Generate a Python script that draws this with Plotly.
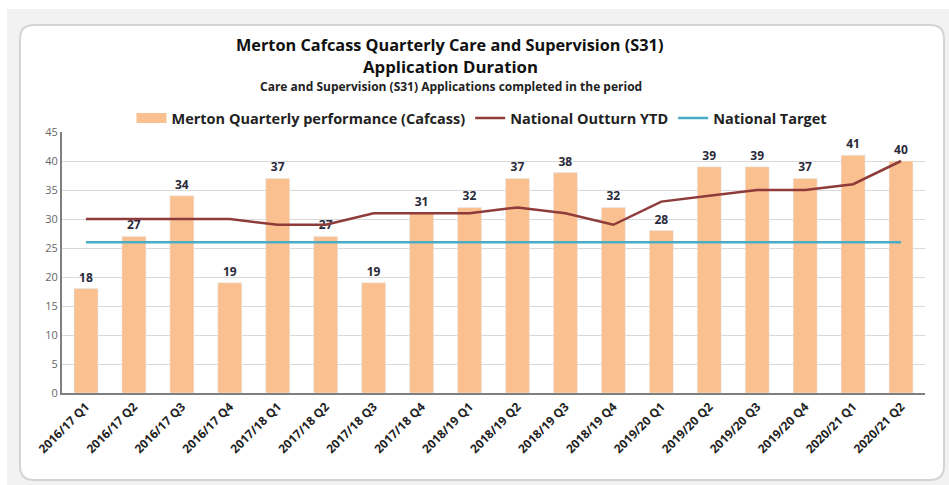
import plotly.graph_objects as go

# quarters on the x axis
quarters = [
    "2016/17 Q1", "2016/17 Q2", "2016/17 Q3", "2016/17 Q4",
    "2017/18 Q1", "2017/18 Q2", "2017/18 Q3", "2017/18 Q4",
    "2018/19 Q1", "2018/19 Q2", "2018/19 Q3", "2018/19 Q4",
    "2019/20 Q1", "2019/20 Q2", "2019/20 Q3", "2019/20 Q4",
    "2020/21 Q1", "2020/21 Q2",
]

# Merton quarterly performance (weeks)
merton = [18, 27, 34, 19, 37, 27, 19, 31, 32, 37, 38, 32, 28, 39, 39, 37, 41, 40]

# national outturn year to date
national_ytd = [30, 30, 30, 30, 29, 29, 31, 31, 31, 32, 31, 29, 33, 34, 35, 35, 36, 40]

# national target
national_target = [26] * len(quarters)

y_ticks = [0, 5, 10, 15, 20, 25, 30, 35, 40, 45]

BAR_COL = "#FAC08F"
LINE_COL = "#8E3B3A"
TARGET_COL = "#4BACC6"
FONT = "Open Sans"

# plot area in pixels (left, top, right, bottom)
L, T, R, B = 62, 132, 925, 393
PW, PH = R - L, B - T


def px(x):
    """pixel x -> paper x"""
    return (x - L) / PW


def py(y):
    """pixel y -> paper y"""
    return (B - y) / PH


def rounded_rect(x0, y0, x1, y1, r):
    rx, ry = r / PW, r / PH
    a, b, c, d = px(x0), px(x1), py(y1), py(y0)  # left, right, bottom, top
    return (f"M {a + rx},{d} L {b - rx},{d} Q {b},{d} {b},{d - ry} "
            f"L {b},{c + ry} Q {b},{c} {b - rx},{c} L {a + rx},{c} "
            f"Q {a},{c} {a},{c + ry} L {a},{d - ry} Q {a},{d} {a + rx},{d} Z")


fig = go.Figure()

fig.add_trace(go.Bar(
    x=quarters, y=merton,
    name="Merton Quarterly performance (Cafcass)",
    marker=dict(color=BAR_COL),
    text=merton, textposition="outside", cliponaxis=False,
    textfont=dict(family=FONT, size=12, color="#2a2a3a", weight="bold"),
    showlegend=False,
))

# legend-only entry so the bar swatch is a wide block like the original
fig.add_trace(go.Scatter(
    x=[quarters[0]], y=[None], mode="lines",
    name="Merton Quarterly performance (Cafcass)",
    line=dict(color=BAR_COL, width=10),
))

fig.add_trace(go.Scatter(
    x=quarters, y=national_ytd, mode="lines",
    name="National Outturn YTD",
    line=dict(color=LINE_COL, width=2.5),
))

fig.add_trace(go.Scatter(
    x=quarters, y=national_target, mode="lines",
    name="National Target",
    line=dict(color=TARGET_COL, width=2.5),
))

fig.update_layout(
    width=949, height=485,
    margin=dict(l=L, r=949 - R, t=T, b=485 - B),
    paper_bgcolor="white", plot_bgcolor="rgba(0,0,0,0)",
    bargap=0.5,
    font=dict(family=FONT, color="#333"),
    showlegend=True,
    legend=dict(
        orientation="h", x=px(482), xanchor="center", y=py(118), yanchor="middle",
        font=dict(family=FONT, size=14.5, color="#222", weight="bold"),
        traceorder="normal", bgcolor="rgba(0,0,0,0)",
    ),
    xaxis=dict(
        tickangle=-45, tickfont=dict(family=FONT, size=12, color="#222", weight="bold"),
        showline=True, linecolor="#7f7f7f", linewidth=2,
        ticks="", showgrid=False, automargin=False,
    ),
    yaxis=dict(
        range=[0, 45], tickvals=y_ticks,
        tickfont=dict(family=FONT, size=11, color="#666"),
        showline=True, linecolor="#7f7f7f", linewidth=2,
        gridcolor="#d9d9d9", gridwidth=1, zeroline=False, automargin=False,
    ),
    annotations=[
        dict(text="<b>Merton Cafcass Quarterly Care and Supervision (S31)</b>",
             xref="paper", yref="paper", x=px(449), y=py(45), showarrow=False,
             yanchor="middle", font=dict(family=FONT, size=16.3, color="#111")),
        dict(text="<b>Application Duration</b>",
             xref="paper", yref="paper", x=px(450), y=py(67), showarrow=False,
             yanchor="middle", font=dict(family=FONT, size=16.8, color="#111")),
        dict(text="<b>Care and Supervision (S31) Applications completed in the period</b>",
             xref="paper", yref="paper", x=px(451), y=py(86), showarrow=False,
             yanchor="middle", font=dict(family=FONT, size=12, color="#222")),
    ],
    shapes=[
        # grey page background
        dict(type="rect", xref="paper", yref="paper",
             x0=px(7), x1=px(949), y0=py(485), y1=py(9),
             fillcolor="#f2f2f2", line=dict(width=0), layer="below"),
        # white chart frame
        dict(type="path", xref="paper", yref="paper",
             path=rounded_rect(20, 25, 944, 480, 14),
             fillcolor="white", line=dict(color="#d4d4d4", width=2), layer="below"),
    ],
)

fig.write_html("out.html", config={"displayModeBar": False},
               post_script="document.body.style.margin='0';")
